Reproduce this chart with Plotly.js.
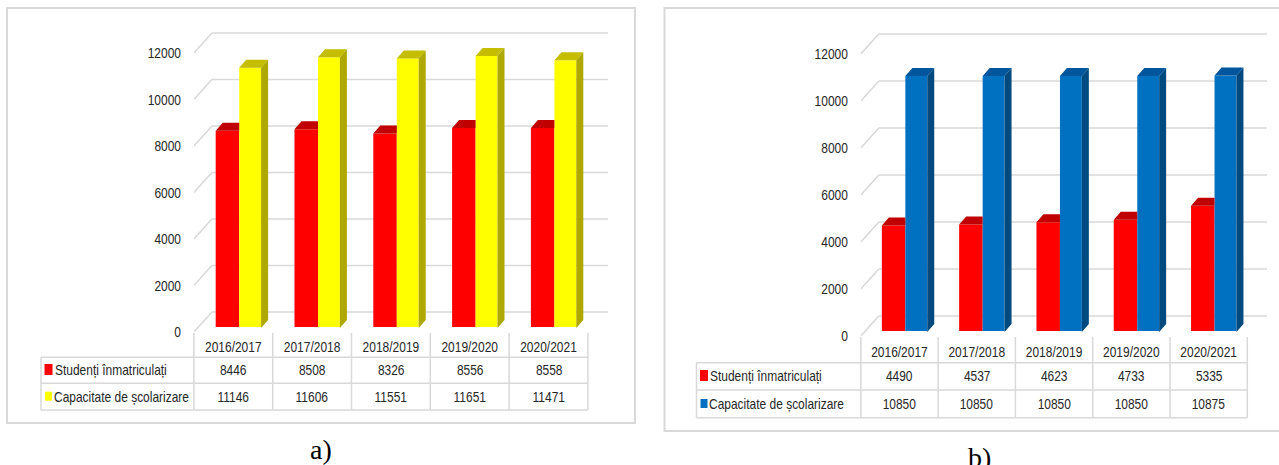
<!DOCTYPE html>
<html>
<head>
<meta charset="utf-8">
<script src="https://cdn.plot.ly/plotly-3.0.1.min.js"></script>
<style>html,body{margin:0;padding:0;background:#fff;overflow:hidden}</style>
</head>
<body>
<div id="chart" style="width:1279px;height:465px"></div>
<script>
// ---- data ----
const categories = ["2016/2017","2017/2018","2018/2019","2019/2020","2020/2021"];
const studentsLabel = "Studenți înmatriculați";
const capacityLabel = "Capacitate de școlarizare";
const studentsA = [8446,8508,8326,8556,8558];
const capacityA = [11146,11606,11551,11651,11471];
const studentsB = [4490,4537,4623,4733,5335];
const capacityB = [10850,10850,10850,10850,10875];
const yTicks = [0,2000,4000,6000,8000,10000,12000];
const panelCaptions = ["a)","b)"];

// ---- page geometry ----
const W = 1279, H = 465, FONT = '"Liberation Sans", Arial, sans-serif';
const GRID = '#d9d9d9', TXT = '#262626', TS = 14.6, SQUEEZE = 0.82;
const traces = [], shapes = [], annotations = [], layout = {};
const fx = p => p / W, fy = p => 1 - p / H;

function paperLine(x0,y0,x1,y1,w,c){
  shapes.push({type:'line',xref:'paper',yref:'paper',layer:'below',x0:fx(x0),y0:fy(y0),x1:fx(x1),y1:fy(y1),
    line:{color:c||GRID,width:w||1.5}});
}
function paperRect(x0,y0,x1,y1,fill,line){
  shapes.push({type:'rect',xref:'paper',yref:'paper',layer:'below',x0:fx(x0),y0:fy(y0),x1:fx(x1),y1:fy(y1),
    fillcolor:fill||'rgba(0,0,0,0)',line:line||{width:0}});
}
function label(txt,x,y,anchor,size,family){
  annotations.push({xref:'paper',yref:'paper',x:fx(x),y:fy(y),text:txt,showarrow:false,xanchor:anchor,yanchor:'middle',
    font:{family:family||FONT,size:size||TS,color:family?'#000':TXT},borderpad:0,borderwidth:0});
}

function panel(g){
  const xn = g.idx===0?'x':'x'+(g.idx+1), yn = g.idx===0?'y':'y'+(g.idx+1);
  const xKey = g.idx===0?'xaxis':'xaxis'+(g.idx+1), yKey = g.idx===0?'yaxis':'yaxis'+(g.idx+1);
  const c0 = g.col0 + g.pitch/2;                 // px of category 0
  const u = p => p / g.pitch;                    // px width -> x units
  const v = p => p * 12000 / g.scale;            // px height -> y units
  const topPx = 14;
  layout[xKey] = {domain:[fx(g.col0),fx(g.gridRight)],range:[-0.5,(g.gridRight-c0)/g.pitch],anchor:yn,
    tickmode:'array',tickvals:categories.map((_,i)=>i),ticktext:categories,showgrid:false,zeroline:false,showline:false,
    ticks:'outside',ticklen:g.xTickLen,tickcolor:'rgba(0,0,0,0)',tickfont:{family:FONT,size:TS,color:TXT},fixedrange:true};
  layout[yKey] = {domain:[fy(g.y0),fy(topPx)],range:[0,v(g.y0-topPx)],anchor:xn,
    tickmode:'array',tickvals:yTicks,ticktext:yTicks.map(String),showgrid:false,zeroline:false,showline:false,
    ticks:'outside',ticklen:9,tickcolor:'rgba(0,0,0,0)',tickfont:{family:FONT,size:TS,color:TXT},fixedrange:true};

  // back wall grid and left wall diagonals, from the axis scale
  const bx0 = u(g.wallDx)-0.5, wallUp = v(g.wallDy);
  yTicks.forEach(t=>{
    const ln=(x0,y0,x1,y1)=>shapes.push({type:'line',xref:xn,yref:yn,layer:'below',x0,y0,x1,y1,line:{color:GRID,width:1.6}});
    ln(bx0,t+wallUp,(g.gridRight-c0)/g.pitch,t+wallUp);
    ln(-0.5,t,bx0,t+wallUp);
  });

  // bars
  const dx = u(7), dy = v(8), base = v(g.y0-g.baseFront);
  const xs = categories.map((_,i)=>i);
  const aL = u(-17.6), mid = u(5.9), bR = u(27.8);
  traces.push({type:'bar',xaxis:xn,yaxis:yn,x:xs.map(i=>i+(aL+mid)/2),y:g.s1,base:base,width:mid-aL,
    marker:{color:'#ff0000',line:{width:0}},name:studentsLabel,hoverinfo:'skip'});
  traces.push({type:'bar',xaxis:xn,yaxis:yn,x:xs.map(i=>i+(mid+bR)/2),y:g.s2,base:base,width:bR-mid,
    marker:{color:g.color,line:{width:0}},name:capacityLabel,hoverinfo:'skip'});

  const poly=(px,py,c)=>traces.push({type:'scatter',mode:'lines',xaxis:xn,yaxis:yn,x:px,y:py,fill:'toself',fillcolor:c,
    line:{width:0,color:c},hoverinfo:'skip',showlegend:false,connectgaps:false});
  let x=[],y=[];
  g.s1.forEach((val,i)=>{const t=base+val;
    x.push(i+aL,i+aL+dx,i+mid,i+mid,i+aL,null); y.push(t,t+dy,t+dy,t,t,null);});
  poly(x,y,'#c00000');
  x=[];y=[];
  g.s2.forEach((val,i)=>{const t=base+val;
    x.push(i+mid,i+mid+dx,i+bR+dx,i+bR,i+mid,null); y.push(t,t+dy,t+dy,t,t,null);});
  poly(x,y,g.topColor);
  x=[];y=[];
  g.s2.forEach((val,i)=>{const t=base+val;
    x.push(i+bR,i+bR+dx,i+bR+dx,i+bR,i+bR,null); y.push(base-v(1),base-v(1)+dy,t+dy,t,base-v(1),null);});
  poly(x,y,g.sideColor);

  // data table
  const cols = categories.map((_,i)=>g.col0+i*g.pitch);
  const right = g.col0+categories.length*g.pitch;
  paperLine(g.tableLeft,g.rows[0],g.tableLeft,g.rows[2],1.5);
  cols.concat([right]).forEach(c=>paperLine(c,g.y0+1,c,g.rows[2],1.5));
  paperLine(g.tableLeft,g.rows[0],right,g.rows[0],1.5);
  paperLine(g.tableLeft,g.rows[1],right,g.rows[1],1.5);
  paperLine(g.tableLeft,g.rows[2],right,g.rows[2],1.5);
  label(studentsLabel,g.tableLeft+13.5,g.rowY[0],'left');
  label(capacityLabel,g.tableLeft+12.5,g.rowY[1],'left');
  cols.forEach((c,i)=>{
    label(String(g.s1[i]),c+g.pitch/2,g.rowY[0],'center');
    label(String(g.s2[i]),c+g.pitch/2,g.rowY[1],'center');
  });
  paperRect(g.tableLeft+3.5,g.rowY[0]-6,g.tableLeft+11.5,g.rowY[0]+5,'#ff0000');
  paperRect(g.tableLeft+4,g.rowY[1]-5,g.tableLeft+11,g.rowY[1]+4,g.color);

  // frame and caption
  paperRect(g.frame[0],g.frame[1],g.frame[2],g.frame[3],'rgba(0,0,0,0)',{color:GRID,width:2});
  label(panelCaptions[g.idx],g.capX,g.capY,'center',28,'"Liberation Serif", "Times New Roman", serif');
}

panel({idx:0,s1:studentsA,s2:capacityA,color:'#ffff00',topColor:'#c4bd00',sideColor:'#aea800',
  col0:193.9,pitch:78.8,gridRight:608,y0:332,scale:279,baseFront:327,wallDx:18,wallDy:20,xTickLen:1.5,
  tableLeft:41,rows:[357.3,383.3,410],rowY:[370,396.7],frame:[7,8,635,423],capX:321,capY:449});
panel({idx:1,s1:studentsB,s2:capacityB,color:'#0070c0',topColor:'#00569c',sideColor:'#004a80',
  col0:860.8,pitch:77.3,gridRight:1267,y0:336,scale:282,baseFront:331,wallDx:18,wallDy:20,xTickLen:2.5,
  tableLeft:696.5,rows:[362.7,390,417.7],rowY:[376,404],frame:[664.5,8,1285,431],capX:979,capY:457});

Object.assign(layout,{width:W,height:H,margin:{l:0,r:0,t:0,b:0,pad:0},paper_bgcolor:'#fff',plot_bgcolor:'rgba(0,0,0,0)',
  barmode:'overlay',showlegend:false,shapes:shapes,annotations:annotations});
Plotly.newPlot('chart',traces,layout,{displayModeBar:false,staticPlot:true}).then(gd=>{
  // the reference's text is horizontally compressed: squeeze the glyphs, keeping real text
  gd.querySelectorAll('text').forEach(t=>{
    const fs = parseFloat(t.style.fontSize);
    if (fs && fs < 20) {
      const len = t.getComputedTextLength();
      if (!len) return;
      t.setAttribute('textLength', (len*SQUEEZE).toFixed(1));
      t.setAttribute('lengthAdjust','spacingAndGlyphs');
      const content = t.textContent;
      if (content === studentsLabel || content === capacityLabel) {
        // keep the row labels' left edge where it was before squeezing
        t.setAttribute('x', parseFloat(t.getAttribute('x')) - len*(1-SQUEEZE)/2);
      }
    }
  });
});
</script>
</body>
</html>
